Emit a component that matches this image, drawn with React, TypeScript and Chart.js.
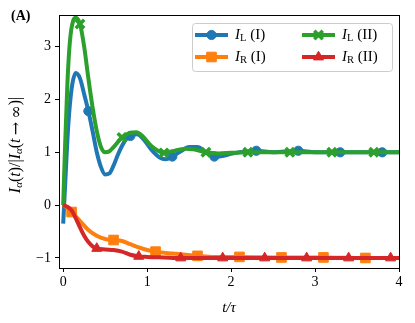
import React, { useEffect, useRef } from 'react';
import { Chart, registerables } from 'chart.js';
Chart.register(...registerables);

// I_L (I) — blue
const tL1 = [0, 0.03, 0.06, 0.1, 0.15, 0.2, 0.25, 0.3, 0.35, 0.4, 0.45, 0.5, 0.55, 0.6, 0.65, 0.7, 0.75, 0.8, 0.88, 0.95, 1.05, 1.15, 1.22, 1.3, 1.4, 1.5, 1.6, 1.7, 1.8, 1.9, 2.0, 2.1, 2.3, 2.5, 2.8, 3.0, 3.3, 3.6, 3.8, 4.0];
const yL1 = [-0.35, 0.6, 1.5, 2.2, 2.5, 2.4, 2.1, 1.78, 1.4, 1.0, 0.72, 0.58, 0.6, 0.75, 0.95, 1.12, 1.25, 1.31, 1.34, 1.26, 1.05, 0.9, 0.87, 0.92, 1.02, 1.1, 1.1, 1.0, 0.92, 0.93, 0.97, 1.0, 1.03, 1.0, 1.03, 1.0, 1.0, 1.0, 1.0, 1.0];
const mL1 = [0.3, 0.8, 1.3, 1.8, 2.3, 2.8, 3.3, 3.8];

// I_R (I) — orange
const tR1 = [0, 0.05, 0.1, 0.2, 0.3, 0.4, 0.5, 0.6, 0.7, 0.8, 0.9, 1.0, 1.1, 1.25, 1.4, 1.6, 1.8, 2.1, 2.6, 3.1, 3.6, 4.0];
const yR1 = [0, -0.05, -0.13, -0.3, -0.47, -0.58, -0.64, -0.66, -0.68, -0.74, -0.8, -0.85, -0.88, -0.91, -0.93, -0.96, -0.98, -0.98, -0.99, -0.99, -1.0, -1.0];
const mR1 = [0.1, 0.6, 1.1, 1.6, 2.1, 2.6, 3.1, 3.6];

// I_L (II) — green
const tL2 = [0, 0.02, 0.05, 0.08, 0.12, 0.15, 0.2, 0.25, 0.3, 0.35, 0.4, 0.45, 0.5, 0.55, 0.6, 0.7, 0.8, 0.87, 0.95, 1.05, 1.2, 1.3, 1.45, 1.55, 1.7, 1.85, 2.0, 2.2, 2.7, 3.2, 3.7, 4.0];
const yL2 = [0, 1.0, 2.3, 3.1, 3.5, 3.55, 3.43, 3.0, 2.4, 1.85, 1.4, 1.1, 1.0, 1.02, 1.1, 1.28, 1.37, 1.38, 1.3, 1.12, 0.99, 1.02, 1.07, 1.06, 1.0, 0.98, 0.99, 1.0, 1.0, 1.0, 1.0, 1.0];
const mL2 = [0.2, 0.7, 1.2, 1.7, 2.2, 2.7, 3.2, 3.7];

// I_R (II) — red
const tR2 = [0, 0.05, 0.1, 0.15, 0.2, 0.25, 0.3, 0.35, 0.4, 0.5, 0.6, 0.7, 0.8, 0.9, 1.0, 1.2, 1.4, 1.9, 2.4, 2.9, 3.4, 3.9, 4.0];
const yR2 = [0, -0.03, -0.1, -0.25, -0.42, -0.58, -0.7, -0.78, -0.82, -0.84, -0.85, -0.88, -0.94, -0.97, -0.98, -0.99, -1.0, -1.0, -1.0, -1.0, -1.0, -1.0, -1.0];
const mR2 = [0.4, 0.9, 1.4, 1.9, 2.4, 2.9, 3.4, 3.9];

const xTicks = [0, 1, 2, 3, 4];
const yTicks = [-1, 0, 1, 2, 3];

const BLUE = '#1f77b4';
const ORANGE = '#ff7f0e';
const GREEN = '#2ca02c';
const RED = '#d62728';
const SERIF = '"Liberation Serif", serif';
const SYM = '"DejaVu Serif", serif';

type Series = { label: string; sub: string; tag: string; t: number[]; y: number[]; m: number[]; color: string; style: string; r: number; bw: number };

const series: Series[] = [
  { label: 'I', sub: 'L', tag: ' (I)', t: tL1, y: yL1, m: mL1, color: BLUE, style: 'circle', r: 4.6, bw: 1 },
  { label: 'I', sub: 'R', tag: ' (I)', t: tR1, y: yR1, m: mR1, color: ORANGE, style: 'rect', r: 6.8, bw: 1 },
  { label: 'I', sub: 'L', tag: ' (II)', t: tL2, y: yL2, m: mL2, color: GREEN, style: 'crossRot', r: 6, bw: 3.5 },
  { label: 'I', sub: 'R', tag: ' (II)', t: tR2, y: yR2, m: mR2, color: RED, style: 'triangle', r: 5.8, bw: 1 },
];

function drawLabel(ctx: CanvasRenderingContext2D, x: number, y: number, s: Series) {
  ctx.textBaseline = 'middle';
  ctx.textAlign = 'left';
  ctx.fillStyle = '#000';
  ctx.font = `italic 15px ${SERIF}`;
  ctx.fillText(s.label, x, y);
  let w = ctx.measureText(s.label).width;
  ctx.font = `10.5px ${SERIF}`;
  ctx.fillText(s.sub, x + w, y + 3.5);
  w += ctx.measureText(s.sub).width;
  ctx.font = `15px ${SERIF}`;
  ctx.fillText(s.tag, x + w, y);
}

function drawPointShape(ctx: CanvasRenderingContext2D, style: string, r: number, x: number, y: number) {
  ctx.beginPath();
  if (style === 'circle') {
    ctx.arc(x, y, r, 0, Math.PI * 2);
    ctx.fill();
    ctx.stroke();
  } else if (style === 'rect') {
    const s = Math.SQRT1_2 * r;
    ctx.rect(x - s, y - s, 2 * s, 2 * s);
    ctx.fill();
    ctx.stroke();
  } else if (style === 'triangle') {
    const rad = (deg: number) => (deg * Math.PI) / 180;
    ctx.moveTo(x, y - r);
    ctx.lineTo(x + Math.sin(rad(120)) * r, y - Math.cos(rad(120)) * r);
    ctx.lineTo(x + Math.sin(rad(240)) * r, y - Math.cos(rad(240)) * r);
    ctx.closePath();
    ctx.fill();
    ctx.stroke();
  } else {
    const o = Math.SQRT1_2 * r;
    ctx.moveTo(x - o, y - o);
    ctx.lineTo(x + o, y + o);
    ctx.moveTo(x - o, y + o);
    ctx.lineTo(x + o, y - o);
    ctx.stroke();
  }
}

const extras = {
  id: 'extras',
  afterDraw(chart: any) {
    const ctx: CanvasRenderingContext2D = chart.ctx;
    const a = chart.chartArea;
    ctx.save();
    // frame
    ctx.strokeStyle = '#000';
    ctx.lineWidth = 1;
    ctx.strokeRect(Math.round(a.left) + 0.5, Math.round(a.top) + 0.5, Math.round(a.right - a.left), Math.round(a.bottom - a.top));

    // legend
    const bx = 192, by = 23, bw = 200, bh = 48;
    ctx.fillStyle = 'rgba(255,255,255,0.85)';
    ctx.strokeStyle = '#cccccc';
    ctx.lineWidth = 1;
    ctx.beginPath();
    (ctx as any).roundRect(bx + 0.5, by + 0.5, bw, bh, 3);
    ctx.fill();
    ctx.stroke();
    const cols = [195, 302];
    const rows = [35, 57];
    series.forEach((s, i) => {
      const col = Math.floor(i / 2);
      const row = i % 2;
      const x0 = cols[col];
      const yy = rows[row];
      ctx.strokeStyle = s.color;
      ctx.lineWidth = 4;
      ctx.lineCap = 'butt';
      ctx.beginPath();
      ctx.moveTo(x0, yy);
      ctx.lineTo(x0 + 33, yy);
      ctx.stroke();
      ctx.fillStyle = s.color;
      ctx.strokeStyle = s.color;
      ctx.lineWidth = s.bw;
      drawPointShape(ctx, s.style, s.r, x0 + 16.5, yy);
      drawLabel(ctx, x0 + 40, yy, s);
    });

    // (A)
    ctx.fillStyle = '#000';
    ctx.font = `bold 14px ${SERIF}`;
    ctx.textAlign = 'left';
    ctx.textBaseline = 'middle';
    ctx.fillText('(A)', 11, 16);

    // y label
    ctx.translate(16, 145);
    ctx.rotate(-Math.PI / 2);
    const parts: [string, string, number][] = [
      ['I', `italic 16px ${SERIF}`, 0],
      ['α', `italic 11px ${SERIF}`, 3.5],
      ['(', `16px ${SERIF}`, 0],
      ['t', `italic 16px ${SERIF}`, 0],
      [')/|', `16px ${SERIF}`, 0],
      ['I', `italic 16px ${SERIF}`, 0],
      ['α', `italic 11px ${SERIF}`, 3.5],
      ['(', `16px ${SERIF}`, 0],
      ['t', `italic 16px ${SERIF}`, 0],
      ['\u2009→\u2009∞', `16px ${SYM}`, 0.5],
      [')|', `16px ${SERIF}`, 0],
    ];
    let total = 0;
    parts.forEach(([t, f]) => {
      ctx.font = f;
      total += ctx.measureText(t).width;
    });
    let px = -total / 2;
    parts.forEach(([t, f, dy]) => {
      ctx.font = f;
      ctx.fillText(t, px, dy);
      px += ctx.measureText(t).width;
    });
    ctx.restore();
  },
};

export default function App() {
  const ref = useRef<HTMLCanvasElement>(null);
  useEffect(() => {
    document.body.style.margin = '0';
    const canvas = ref.current!;
    const order = [3, 2, 1, 0];
    const datasets = order.map((i) => {
      const s = series[i];
      return {
        label: s.sub + s.tag,
        data: s.t.map((t, k) => ({ x: t, y: s.y[k] })),
        borderColor: s.color,
        backgroundColor: s.color,
        borderWidth: 4,
        cubicInterpolationMode: 'monotone' as const,
        pointStyle: s.style,
        pointBorderWidth: s.bw,
        pointRadius: (c: any) => (c.raw && s.m.includes(c.raw.x) ? s.r : 0),
        clip: false as any,
      };
    });
    const chart = new Chart(canvas, {
      type: 'line',
      data: { datasets: datasets as any },
      options: {
        animation: false,
        responsive: false,
        devicePixelRatio: 1,
        events: [],
        layout: { padding: { left: 0, top: 15, right: 16, bottom: 6 } },
        plugins: { legend: { display: false }, tooltip: { enabled: false } },
        scales: {
          x: {
            type: 'linear',
            min: -0.05,
            max: 4,
            afterBuildTicks: (s: any) => { s.ticks = xTicks.map((v) => ({ value: v })); },
            afterFit: (s: any) => { s.height = 49; },
            grid: { drawOnChartArea: false, drawTicks: true, tickLength: 4, color: '#000' },
            border: { color: '#000', width: 1 },
            ticks: { color: '#000', font: { family: SERIF, size: 14 }, padding: 2, maxRotation: 0, callback: (v: any) => String(v) },
            title: { display: true, text: 't/τ', color: '#000', font: { family: SERIF, size: 15, style: 'italic' }, padding: { top: 0, bottom: 0 } },
          },
          y: {
            type: 'linear',
            min: -1.19,
            max: 3.6,
            afterBuildTicks: (s: any) => { s.ticks = yTicks.map((v) => ({ value: v })); },
            afterFit: (s: any) => { s.width = 59; },
            grid: { drawOnChartArea: false, drawTicks: true, tickLength: 4, color: '#000' },
            border: { color: '#000', width: 1 },
            ticks: { color: '#000', font: { family: SERIF, size: 14 }, padding: 4, callback: (v: any) => (v < 0 ? '−' + Math.abs(v) : String(v)) },
          },
        },
      },
      plugins: [extras],
    });
    return () => chart.destroy();
  }, []);
  return (
    <div style={{ width: 415, height: 323 }}>
      <canvas ref={ref} width={415} height={323} style={{ display: 'block' }} />
    </div>
  );
}
